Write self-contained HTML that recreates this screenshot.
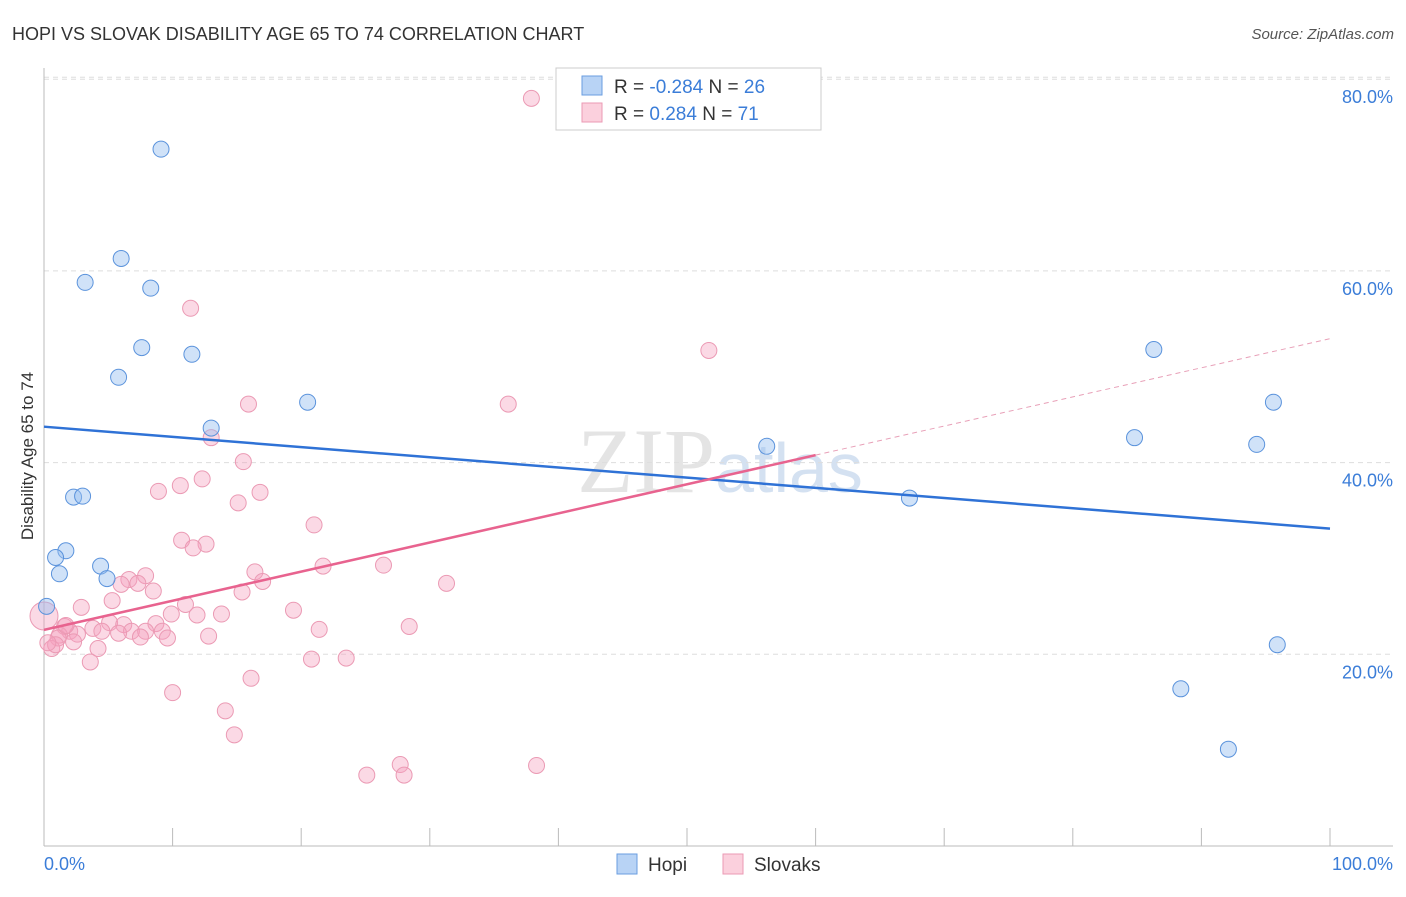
<!DOCTYPE html>
<html><head><meta charset="utf-8"><style>
body{margin:0;background:#fff;font-family:"Liberation Sans",sans-serif}
</style></head><body>
<svg id="c" width="1406" height="892" xmlns="http://www.w3.org/2000/svg">
<text x="12" y="40" font-size="18" fill="#333">HOPI VS SLOVAK DISABILITY AGE 65 TO 74 CORRELATION CHART</text>
<text x="1394" y="39" font-size="15" fill="#555" font-style="italic" text-anchor="end">Source: ZipAtlas.com</text>
<text x="720" y="492" font-size="92" fill="#e4e4e4" text-anchor="middle" font-family="Liberation Serif,serif">ZIP<tspan fill="#d4e1f1" font-family="Liberation Sans,sans-serif" font-size="70">atlas</tspan></text>
<g id="grid"></g>
<line x1="44" y1="68" x2="44" y2="846" stroke="#bbb"/>
<line x1="44" y1="846" x2="1393" y2="846" stroke="#bbb"/>
<text transform="translate(33,456) rotate(-90)" font-size="17" fill="#333" text-anchor="middle">Disability Age 65 to 74</text>
<text x="44" y="870" font-size="18" fill="#3b7dd8">0.0%</text>
<text x="1393" y="870" font-size="18" fill="#3b7dd8" text-anchor="end">100.0%</text>
<g id="pts"></g>
<g id="lines"></g>
<g>
<rect x="556" y="68" width="265" height="62" fill="#fff" stroke="#ccc"/>
<rect x="582" y="76" width="20" height="19" fill="#b8d3f5" stroke="#6a9ee0"/>
<rect x="582" y="103" width="20" height="19" fill="#fbd0dd" stroke="#eb9ab4"/>
<text x="614" y="93" font-size="19" fill="#333">R = <tspan fill="#3b7dd8">-0.284</tspan>   N = <tspan fill="#3b7dd8">26</tspan></text>
<text x="614" y="120" font-size="19" fill="#333">R =  <tspan fill="#3b7dd8"> 0.284</tspan>   N =  <tspan fill="#3b7dd8">71</tspan></text>
</g>
<g>
<rect x="617" y="854" width="20" height="20" fill="#b8d3f5" stroke="#6a9ee0"/>
<text x="648" y="871" font-size="19" fill="#333">Hopi</text>
<rect x="723" y="854" width="20" height="20" fill="#fbd0dd" stroke="#eb9ab4"/>
<text x="754" y="871" font-size="19" fill="#333">Slovaks</text>
</g>
</svg>
<script>
const yTicks=[20,40,60,80];
const xTicks=[0,10,20,30,40,50,60,70,80,90,100];
const hopiX=[9.1,6.0,3.2,8.3,7.6,11.5,5.8,13.0,20.5,2.3,3.0,1.7,0.9,1.2,4.4,4.9,0.2,56.2,67.3,86.3,84.8,95.6,94.3,95.9,88.4,92.1];
const hopiY=[72.7,61.3,58.8,58.2,52.0,51.3,48.9,43.6,46.3,36.4,36.5,30.8,30.1,28.4,29.2,27.9,25.0,41.7,36.3,51.8,42.6,46.3,41.9,21.0,16.4,10.1];
const slovX=[37.9,11.4,51.7,15.9,36.1,13.0,15.5,12.3,10.6,8.9,16.8,15.1,21.0,10.7,12.6,11.6,21.7,26.4,16.4,17.0,7.9,6.6,7.3,6.0,31.3,8.5,15.4,5.3,11.0,2.9,19.4,13.8,9.9,11.9,0.0,8.7,5.1,6.2,28.4,1.6,3.8,21.4,4.5,2.0,6.8,7.9,9.2,2.6,5.8,1.2,1.1,12.8,7.5,9.6,2.3,4.2,0.6,0.9,3.6,20.8,23.5,16.1,10.0,14.1,14.8,27.7,25.1,28.0,38.3,0.3,1.7];
const slovY=[78.0,56.1,51.7,46.1,46.1,42.6,40.1,38.3,37.6,37.0,36.9,35.8,33.5,31.9,31.5,31.1,29.2,29.3,28.6,27.6,28.2,27.8,27.4,27.3,27.4,26.6,26.5,25.6,25.2,24.9,24.6,24.2,24.2,24.1,24.0,23.2,23.3,23.1,22.9,22.9,22.7,22.6,22.4,22.4,22.4,22.4,22.4,22.1,22.2,22.0,21.7,21.9,21.8,21.7,21.3,20.6,20.6,21.0,19.2,19.5,19.6,17.5,16.0,14.1,11.6,8.5,7.4,7.4,8.4,21.2,23.0];
const NS="http://www.w3.org/2000/svg";
const xs=v=>44+v*12.86, ys=v=>846-v*9.585;
function mk(t,a,p){const e=document.createElementNS(NS,t);for(const k in a)e.setAttribute(k,a[k]);p.appendChild(e);return e;}
const grid=document.getElementById('grid');
yTicks.forEach(t=>{
 const l=mk('line',{x1:44,x2:1393,y1:ys(t),y2:ys(t),stroke:'#ddd','stroke-dasharray':'5,4'},grid);
 
 
 const tx=mk('text',{x:1393,y:ys(t)+24,'font-size':18,fill:'#3b7dd8','text-anchor':'end'},grid);
 tx.textContent=t.toFixed(1)+'%';
 
 
});
mk('line',{x1:44,x2:1393,y1:ys(80)-2,y2:ys(80)-2,stroke:'#ddd','stroke-dasharray':'5,4'},grid);
xTicks.forEach(t=>{
 const l=mk('line',{x1:xs(t),x2:xs(t),y1:828,y2:846,stroke:'#bbb'},grid);
 
 
});
const pts=document.getElementById('pts');
slovX.forEach((x,i)=>{
 const c=mk('circle',{cx:xs(x),cy:ys(slovY[i]),r:(x===0?14:8),fill:'rgba(245,160,190,0.4)',stroke:'#eb9ab4','stroke-width':1},pts);
 
 
});
hopiX.forEach((x,i)=>{
 const c=mk('circle',{cx:xs(x),cy:ys(hopiY[i]),r:8,fill:'rgba(150,190,240,0.45)',stroke:'#5b93dc','stroke-width':1},pts);
 
 
});
function fit(X,Y){const n=X.length;let mx=0,my=0;X.forEach((v,i)=>{mx+=v;my+=Y[i]});mx/=n;my/=n;let sxy=0,sxx=0;X.forEach((v,i)=>{sxy+=(v-mx)*(Y[i]-my);sxx+=(v-mx)**2});const b=sxy/sxx;return [my-b*mx,b];}
const L=document.getElementById('lines');
const h=fit(hopiX,hopiY);
let e=mk('line',{x1:xs(0),y1:ys(h[0]),x2:xs(100),y2:ys(h[0]+h[1]*100),stroke:'#2f72d6','stroke-width':2.5},L);


const s=fit(slovX,slovY);
e=mk('line',{x1:xs(0),y1:ys(s[0]),x2:xs(60),y2:ys(s[0]+s[1]*60),stroke:'#e8638f','stroke-width':2.5},L);


e=mk('line',{x1:xs(60),y1:ys(s[0]+s[1]*60),x2:xs(100),y2:ys(s[0]+s[1]*100),stroke:'#e8a0b8','stroke-width':1,'stroke-dasharray':'5,4'},L);


</script>
</body></html>
